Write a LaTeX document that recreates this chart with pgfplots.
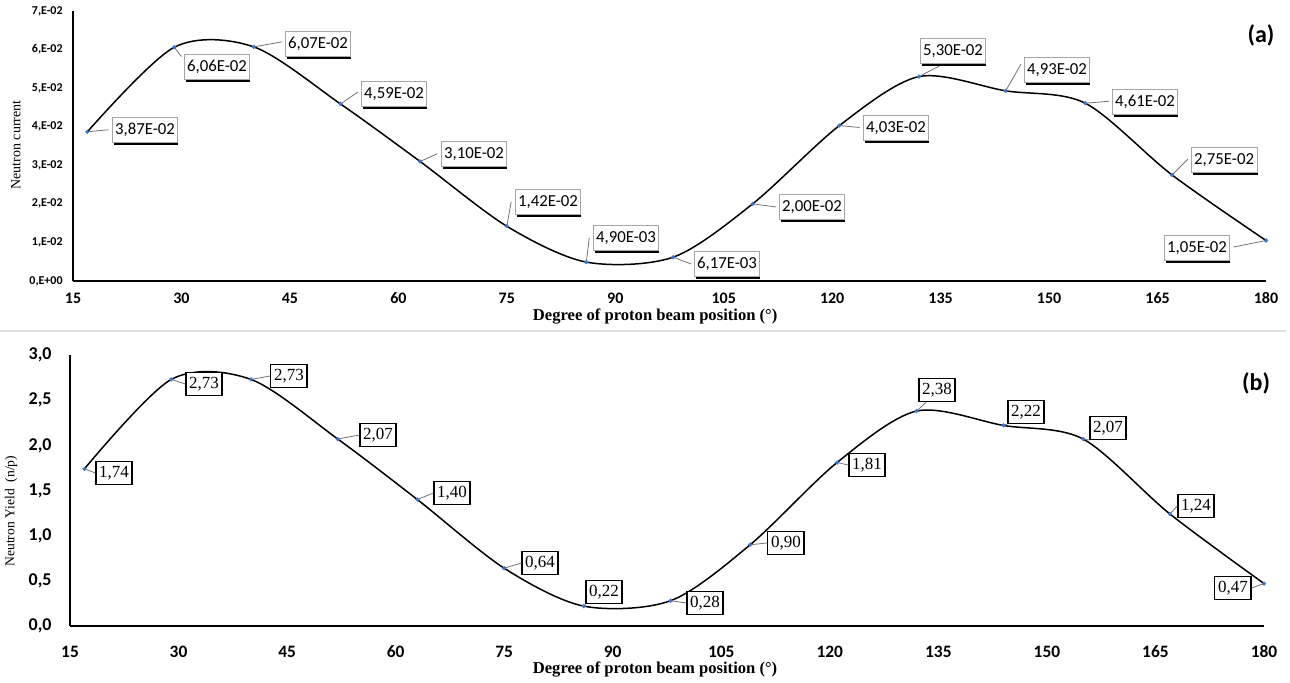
\documentclass[border=0pt]{standalone}
\usepackage{pgfplots}
\pgfplotsset{compat=1.18}
\usepackage{fontspec}
\setmainfont{Liberation Serif}
\newfontfamily\carlito{Carlito}
\definecolor{mk}{RGB}{68,114,196}

\pgfplotstableread{
x y
17 0.0387
29 0.0606
40 0.0607
52 0.0459
63 0.0310
75 0.0142
86 0.0049
98 0.00617
109 0.0200
121 0.0403
132 0.0530
144 0.0493
155 0.0461
167 0.0275
180 0.0105
}\dataA

\pgfplotstableread{
x y
17 1.74
29 2.73
40 2.73
52 2.07
63 1.40
75 0.64
86 0.22
98 0.28
109 0.90
121 1.81
132 2.38
144 2.22
155 2.07
167 1.24
180 0.47
}\dataB

\tikzset{
 labA/.style={draw=black!35, line width=0.5pt, fill=white,
   font=\carlito\fontsize{8.4}{9}\selectfont, inner xsep=1.5pt, inner ysep=0pt,
   minimum height=12.5pt},
 labB/.style={draw=black, line width=0.6pt, fill=white,
   font=\fontsize{8.5}{9}\selectfont, inner xsep=1.6pt, inner ysep=0pt,
   minimum height=11.5pt},
 lead/.style={draw=black!55, line width=0.4pt}
}

\newcommand\LA[4]{%
 \node[labA] (#1) at (axis cs:#2,#3) {#4};
 \draw[black, line width=1.3pt] ([xshift=1.2pt,yshift=-0.45pt]#1.south west) -- ([yshift=-0.45pt]#1.south east);
}

\pgfplotsset{
 common/.style={
   scale only axis,
   axis x line=bottom, axis y line=left,
   axis line style={line width=1pt, -},
   major tick length=0pt,
   xmin=15, xmax=180,
   xtick={15,30,...,180},
   clip=false,
   scaled y ticks=false,
   scaled x ticks=false,
   /pgf/number format/assume math mode=true,
 }
}

\begin{document}
\begin{tikzpicture}
\path[use as bounding box] (0,0) rectangle (645pt,341pt);
\draw[black!12, line width=1pt] (0,175.5pt) -- (643pt,175.5pt);

% ---------------- panel (a)
\begin{axis}[common,
  at={(36.5pt,200.5pt)}, anchor=south west,
  width=596.5pt, height=135pt,
  ymin=0, ymax=0.07,
  ytick={0,0.01,0.02,0.03,0.04,0.05,0.06,0.07},
  yticklabels={0{,}E+00,1{,}E-02,2{,}E-02,3{,}E-02,4{,}E-02,5{,}E-02,6{,}E-02,7{,}E-02},
  x tick label style={font=\carlito\bfseries\fontsize{8}{9}\selectfont, anchor=center, yshift=-8.5pt},
  y tick label style={font=\carlito\bfseries\fontsize{6}{7}\selectfont, anchor=east, inner sep=0pt, xshift=-5pt},
  xlabel={Degree of proton beam position (°)},
  xlabel style={font=\bfseries\fontsize{8.3}{10}\selectfont, at={(axis description cs:0.488,-0.13)}, anchor=center},
  ylabel={Neutron current},
  ylabel style={font=\fontsize{7}{8}\selectfont, at={(axis description cs:-0.0478,0.504)}, anchor=center},
]
\addplot[black, line width=0.75pt, smooth, mark=*, mark size=0.6pt,
  mark options={mk, draw=mk, fill=mk}] table[x=x,y=y] {\dataA};

\draw[lead] (axis cs:17,0.0387) -- (axis cs:19.9,0.0392);
\draw[lead] (axis cs:29,0.0606) -- (axis cs:30.0,0.0582);
\draw[lead] (axis cs:40,0.0607) -- (axis cs:43.9,0.0620);
\draw[lead] (axis cs:52,0.0459) -- (axis cs:54.4,0.0490);
\draw[lead] (axis cs:63,0.0310) -- (axis cs:65.4,0.0330);
\draw[lead] (axis cs:75,0.0142) -- (axis cs:75.6,0.0205);
\draw[lead] (axis cs:86,0.0049) -- (axis cs:86.4,0.0112);
\draw[lead] (axis cs:98,0.00617) -- (axis cs:100.5,0.0044);
\draw[lead] (axis cs:109,0.0200) -- (axis cs:112.2,0.0192);
\draw[lead] (axis cs:121,0.0403) -- (axis cs:123.8,0.0398);
\draw[lead] (axis cs:132,0.0530) -- (axis cs:135.6,0.0565);
\draw[lead] (axis cs:144,0.0493) -- (axis cs:146.1,0.0562);
\draw[lead] (axis cs:155,0.0461) -- (axis cs:158.3,0.0466);
\draw[lead] (axis cs:167,0.0275) -- (axis cs:169.2,0.0316);
\draw[lead] (axis cs:180,0.0105) -- (axis cs:175.5,0.0088);

\LA{a1}{24.96}{0.03915}{3,87E-02}
\LA{a2}{34.92}{0.05548}{6,06E-02}
\LA{a3}{48.89}{0.06144}{6,07E-02}
\LA{a4}{59.40}{0.04848}{4,59E-02}
\LA{a5}{70.46}{0.03293}{3,10E-02}
\LA{a6}{80.70}{0.02048}{1,42E-02}
\LA{a7}{91.49}{0.01115}{4,90E-03}
\LA{a8}{105.45}{0.00441}{6,17E-03}
\LA{a9}{117.21}{0.01919}{2,00E-02}
\LA{a10}{128.83}{0.03967}{4,03E-02}
\LA{a11}{136.71}{0.05963}{5,30E-02}
\LA{a12}{151.10}{0.05470}{4,93E-02}
\LA{a13}{163.27}{0.04641}{4,61E-02}
\LA{a14}{174.20}{0.03137}{2,75E-02}
\LA{a15}{170.46}{0.00856}{1,05E-02}

\node[font=\carlito\bfseries\fontsize{12}{14}\selectfont] at (axis cs:179.3,0.0637) {(a)};
\end{axis}

% ---------------- panel (b)
\begin{axis}[common,
  at={(35pt,28pt)}, anchor=south west,
  width=597pt, height=135.5pt,
  ymin=0, ymax=3,
  ytick={0,0.5,1,1.5,2,2.5,3},
  yticklabels={0{,}0,0{,}5,1{,}0,1{,}5,2{,}0,2{,}5,3{,}0},
  x tick label style={font=\carlito\bfseries\fontsize{8.7}{10}\selectfont, anchor=center, yshift=-13pt},
  y tick label style={font=\carlito\bfseries\fontsize{9}{10}\selectfont, anchor=east, inner sep=0pt, xshift=-9pt},
  xlabel={Degree of proton beam position (°)},
  xlabel style={font=\bfseries\fontsize{8.3}{10}\selectfont, at={(axis description cs:0.49,-0.162)}, anchor=center},
  ylabel={Neutron Yield\ \ (n/p)},
  ylabel style={font=\fontsize{6.8}{8}\selectfont, at={(axis description cs:-0.0494,0.424)}, anchor=center},
]
\addplot[black, line width=0.75pt, smooth, mark=*, mark size=0.6pt,
  mark options={mk, draw=mk, fill=mk}] table[x=x,y=y] {\dataB};

\node[labB] (b1) at (axis cs:21.08,1.694) {1,74};
\draw[lead] (axis cs:17,1.74) -- (b1.west);
\node[labB] (b2) at (axis cs:33.52,2.679) {2,73};
\draw[lead] (axis cs:29,2.73) -- (b2.west);
\node[labB] (b3) at (axis cs:45.26,2.768) {2,73};
\draw[lead] (axis cs:40,2.73) -- (b3.west);
\node[labB] (b4) at (axis cs:57.56,2.114) {2,07};
\draw[lead] (axis cs:52,2.07) -- (b4.west);
\node[labB] (b5) at (axis cs:67.79,1.472) {1,40};
\draw[lead] (axis cs:63,1.40) -- (b5.west);
\node[labB] (b6) at (axis cs:79.95,0.697) {0,64};
\draw[lead] (axis cs:75,0.64) -- (b6.west);
\node[labB] (b7) at (axis cs:88.79,0.376) {0,22};
\draw[lead] (axis cs:86,0.22) -- (b7.south west);
\node[labB] (b8) at (axis cs:102.75,0.255) {0,28};
\draw[lead] (axis cs:98,0.28) -- (b8.west);
\node[labB] (b9) at (axis cs:113.94,0.919) {0,90};
\draw[lead] (axis cs:109,0.90) -- (b9.west);
\node[labB] (b10) at (axis cs:125.14,1.782) {1,81};
\draw[lead] (axis cs:121,1.81) -- (b10.west);
\node[labB] (b11) at (axis cs:134.81,2.613) {2,38};
\draw[lead] (axis cs:132,2.38) -- ([xshift=4pt]b11.south west);
\node[labB] (b12) at (axis cs:147.11,2.369) {2,22};
\draw[lead] (axis cs:144,2.22) -- (b12.south west);
\node[labB] (b13) at (axis cs:158.44,2.192) {2,07};
\draw[lead] (axis cs:155,2.07) -- (b13.south west);
\node[labB] (b14) at (axis cs:170.60,1.328) {1,24};
\draw[lead] (axis cs:167,1.24) -- (b14.west);
\node[labB] (b15) at (axis cs:175.71,0.421) {0,47};
\draw[lead] (axis cs:180,0.47) -- (b15.east);

\node[font=\carlito\bfseries\fontsize{12}{14}\selectfont] at (axis cs:178.9,2.69) {(b)};
\end{axis}
\end{tikzpicture}
\end{document}
